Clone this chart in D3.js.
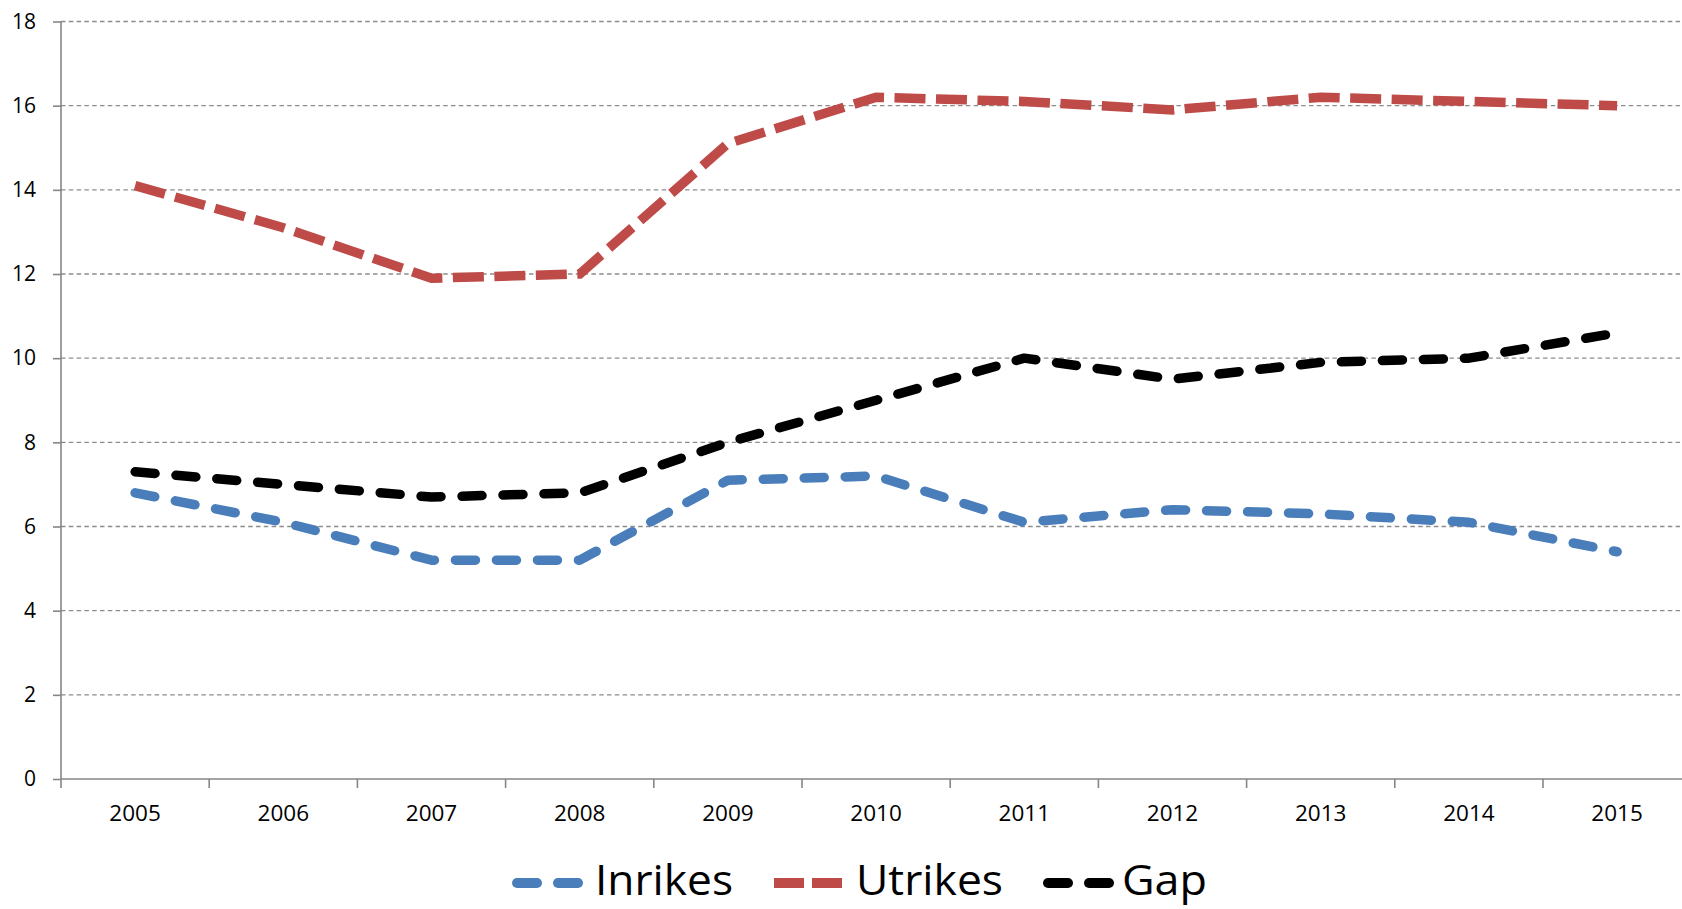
<!DOCTYPE html>
<html>
<head>
<meta charset="utf-8">
<script src="https://cdn.jsdelivr.net/npm/d3@7"></script>
<style>
  html, body { margin: 0; padding: 0; background: #fff; }
  svg { display: block; }
</style>
</head>
<body>
<svg id="chart" width="1682" height="909"></svg>
<script>
const years = ["2005","2006","2007","2008","2009","2010","2011","2012","2013","2014","2015"];
const inrikes = [6.8, 6.1, 5.2, 5.2, 7.1, 7.2, 6.1, 6.4, 6.3, 6.1, 5.4];
const utrikes = [14.1, 13.1, 11.9, 12.0, 15.1, 16.2, 16.1, 15.9, 16.2, 16.1, 16.0];
const gap = [7.3, 7.0, 6.7, 6.8, 8.0, 9.0, 10.0, 9.5, 9.9, 10.0, 10.6];
const yTicks = [0, 2, 4, 6, 8, 10, 12, 14, 16, 18];
const seriesNames = ["Inrikes", "Utrikes", "Gap"];

(function () {
const svg = d3.select("#chart");
const W = 1682;
const plotLeft = 61, band = 148.2, plotTop = 21.5, plotBottom = 779;

const x = d3.scaleBand().domain(years).range([plotLeft, plotLeft + band * years.length]).padding(0);
const y = d3.scaleLinear().domain([0, 18]).range([plotBottom, plotTop]);

const axisColor = "#868686";
const font = "'Open Sans', 'Liberation Sans', sans-serif";

// gridlines
svg.append("g").selectAll("line").data(yTicks.filter(d => d > 0)).join("line")
  .attr("x1", plotLeft).attr("x2", W)
  .attr("y1", d => y(d)).attr("y2", d => y(d))
  .attr("stroke", "#8c8c8c").attr("stroke-width", 1.4)
  .attr("stroke-dasharray", "4.5,3.3");

// y axis
const yAxis = d3.axisLeft(y).tickValues(yTicks).tickSize(8).tickPadding(17).tickFormat(d3.format("d"));
const gy = svg.append("g").attr("transform", `translate(${plotLeft},0)`).call(yAxis);
gy.select(".domain").attr("stroke", axisColor).attr("stroke-width", 1.6).attr("d", `M0,${plotTop}V${plotBottom}`);
gy.selectAll(".tick line").attr("stroke", axisColor).attr("stroke-width", 1.6);
gy.selectAll(".tick text").attr("font-family", font).attr("font-size", 21).attr("fill", "#000");

// x axis
const boundaries = d3.range(years.length + 1).map(i => plotLeft + i * band);
const gx = svg.append("g");
gx.append("line").attr("x1", plotLeft).attr("x2", W).attr("y1", plotBottom).attr("y2", plotBottom)
  .attr("stroke", axisColor).attr("stroke-width", 1.6);
gx.selectAll("line.tk").data(boundaries).join("line").attr("class", "tk")
  .attr("x1", d => d).attr("x2", d => d).attr("y1", plotBottom).attr("y2", plotBottom + 9)
  .attr("stroke", axisColor).attr("stroke-width", 1.6);
gx.selectAll("text").data(years).join("text")
  .attr("x", d => x(d) + x.bandwidth() / 2).attr("y", 821)
  .attr("text-anchor", "middle").attr("font-family", font).attr("font-size", 22.5).attr("fill", "#000")
  .text(d => d);

// series
const series = [
  { name: seriesNames[0], values: inrikes, color: "#4A7EBB", cap: "round", join: "round", dash: "20,21" },
  { name: seriesNames[1], values: utrikes, color: "#BE4B48", cap: "butt", join: "miter", dash: "31,10.5" },
  { name: seriesNames[2], values: gap, color: "#000000", cap: "round", join: "round", dash: "20,21" }
];
const line = d3.line().x((d, i) => x(years[i]) + x.bandwidth() / 2).y(d => y(d));
svg.append("g").selectAll("path").data(series).join("path")
  .attr("d", d => line(d.values))
  .attr("fill", "none").attr("stroke", d => d.color).attr("stroke-width", 9.5)
  .attr("stroke-linecap", d => d.cap).attr("stroke-linejoin", d => d.join)
  .attr("stroke-dasharray", d => d.dash);

// legend
const legendItems = [
  { s: series[0], mx: 512, tx: 595, tw: 138 },
  { s: series[1], mx: 774, tx: 856, tw: 147 },
  { s: series[2], mx: 1043, tx: 1122, tw: 85 }
];
const lg = svg.append("g");
legendItems.forEach(it => {
  const s = it.s;
  if (s.cap === "round") {
    [0, 41].forEach(off => {
      lg.append("line").attr("x1", it.mx + off + 5).attr("x2", it.mx + off + 25)
        .attr("y1", 883).attr("y2", 883)
        .attr("stroke", s.color).attr("stroke-width", 10).attr("stroke-linecap", "round");
    });
  } else {
    [0, 38].forEach(off => {
      lg.append("line").attr("x1", it.mx + off).attr("x2", it.mx + off + 30)
        .attr("y1", 883).attr("y2", 883)
        .attr("stroke", s.color).attr("stroke-width", 10).attr("stroke-linecap", "butt");
    });
  }
  lg.append("text").attr("x", it.tx).attr("y", 895)
    .attr("font-family", font).attr("font-size", 42).attr("fill", "#000")
    .attr("textLength", it.tw).attr("lengthAdjust", "spacingAndGlyphs")
    .text(s.name);
});
})();
</script>
</body>
</html>
